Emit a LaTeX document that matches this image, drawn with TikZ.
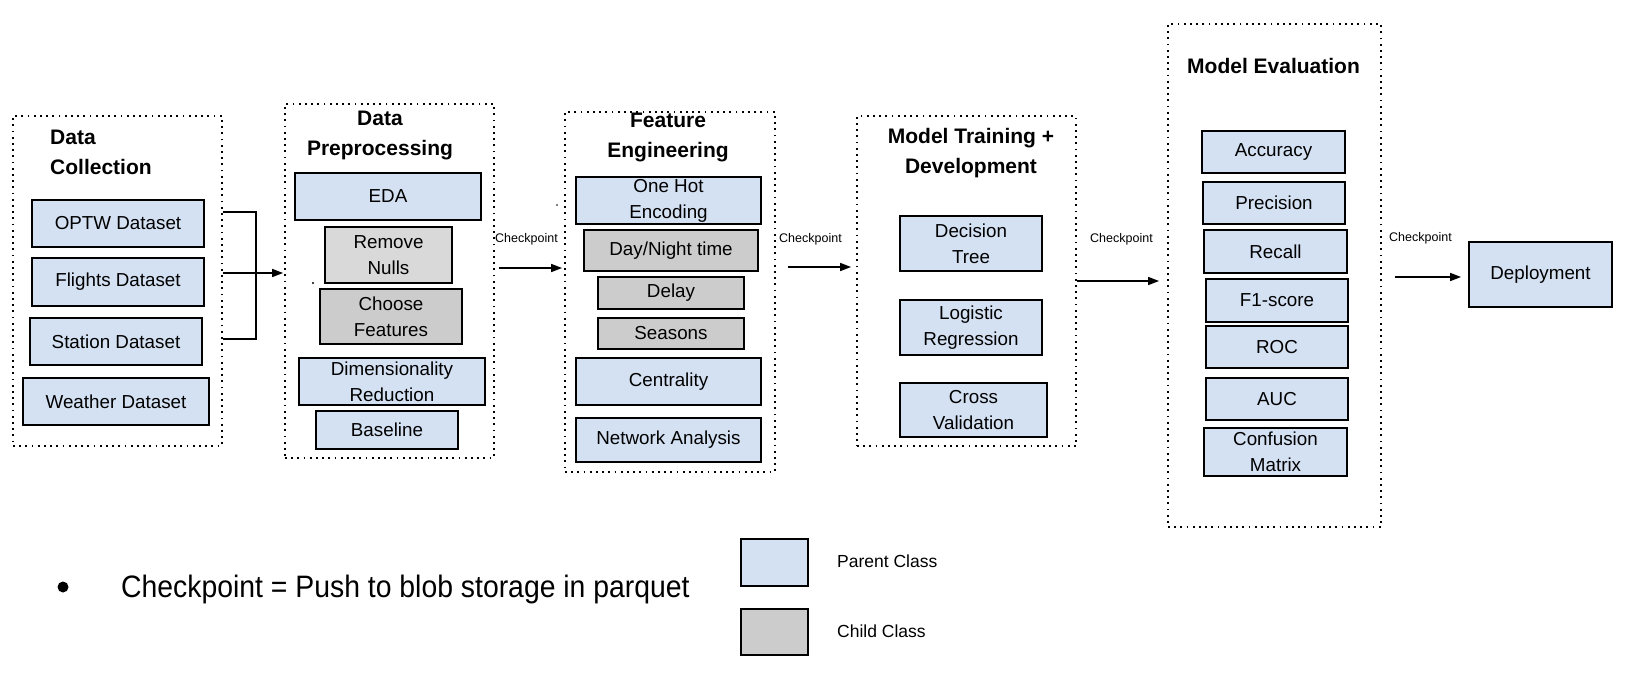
\documentclass[tikz,border=0pt]{standalone}
\usepackage{fontspec}
\setmainfont{Liberation Sans}
\usetikzlibrary{fit,arrows.meta,calc}
\definecolor{pblue}{HTML}{D4E1F3}
\definecolor{cgray}{HTML}{CCCCCC}
\definecolor{lgray}{HTML}{D9D9D9}
\newcommand\bx[7]{\node[#1, minimum width={#5pt-#3pt}, minimum height={#6pt-#4pt}] (#2) at ({(#3+#5)/2},{(#4+#6)/2}) {#7};}
\begin{document}
\begin{tikzpicture}[x=1pt,y=-1pt,
  box/.style={draw=black, line width=1.8pt, inner sep=0pt, align=center, font=\fontsize{18.8}{26}\selectfont},
  pbox/.style={box, fill=pblue},
  cbox/.style={box, fill=cgray},
  lbox/.style={box, fill=lgray},
  stage/.style={draw=black, line width=1.8pt, dash pattern=on 1.8pt off 4.4pt, inner sep=0pt},
  ttl/.style={font=\fontsize{21}{30}\selectfont\bfseries, inner sep=0pt, align=center},
  ckl/.style={font=\fontsize{12.5}{14}\selectfont, inner sep=0pt, anchor=base west},
  arr/.style={line width=1.6pt, -{Triangle[length=11pt,width=8pt]}},
  conn/.style={line width=1.6pt},
  legtext/.style={inner sep=0pt, anchor=base west}
]
\useasboundingbox (0,0) rectangle (1626,694);

% stage frames
\bx{stage}{dc}{13}{116}{222}{446}{}
\bx{stage}{dp}{285}{104}{494}{458}{}
\bx{stage}{fe}{565}{112}{775}{472}{}
\bx{stage}{mt}{857}{116}{1076}{446}{}
\bx{stage}{me}{1168}{24}{1381}{527}{}

% titles
\node[ttl, anchor=north west, align=left] (tdc) at (50,130) {Data\\Collection};
\node[ttl, anchor=north] (tdp) at (380,111) {Data\\Preprocessing};
\node[ttl, anchor=north] (tfe) at (668,113) {Feature\\Engineering};
\node[ttl, anchor=north] (tmt) at (971,128) {Model Training +\\Development};
\node[ttl, anchor=north west] (tme) at (1187,58) {Model Evaluation};

% data collection
\bx{pbox}{optw}{32}{200}{204}{247}{OPTW Dataset}
\bx{pbox}{flights}{32}{258}{204}{306}{Flights Dataset}
\bx{pbox}{station}{30}{318}{202}{365}{Station Dataset}
\bx{pbox}{weather}{23}{378}{209}{425}{Weather Dataset}

% data preprocessing
\bx{pbox}{eda}{295}{173}{481}{220}{EDA}
\bx{lbox}{nulls}{325}{227}{452}{283}{Remove\\Nulls}
\bx{cbox}{choose}{320}{289}{462}{344}{Choose\\Features}
\bx{pbox}{dimred}{299}{358}{485}{405}{Dimensionality\\Reduction}
\bx{pbox}{base}{316}{411}{458}{449}{Baseline}

% feature engineering
\bx{pbox}{onehot}{576}{177}{761}{224}{One Hot\\Encoding}
\bx{cbox}{daynight}{584}{230}{758}{271}{Day/Night time}
\bx{cbox}{delay}{598}{277}{744}{309}{Delay}
\bx{cbox}{seasons}{598}{318}{744}{349}{Seasons}
\bx{pbox}{central}{576}{358}{761}{405}{Centrality}
\bx{pbox}{network}{576}{418}{761}{462}{Network Analysis}

% model training
\bx{pbox}{dtree}{900}{216}{1042}{271}{Decision\\Tree}
\bx{pbox}{logreg}{900}{300}{1042}{355}{Logistic\\Regression}
\bx{pbox}{crossval}{900}{383}{1047}{437}{Cross\\Validation}

% model evaluation
\bx{pbox}{acc}{1202}{131}{1345}{173}{Accuracy}
\bx{pbox}{prec}{1203}{182}{1345}{224}{Precision}
\bx{pbox}{recall}{1204}{230}{1347}{273}{Recall}
\bx{pbox}{f1}{1206}{279}{1348}{322}{F1-score}
\bx{pbox}{roc}{1206}{326}{1348}{368}{ROC}
\bx{pbox}{auc}{1206}{378}{1348}{420}{AUC}
\bx{pbox}{conf}{1204}{428}{1347}{476}{Confusion\\Matrix}

% deployment
\bx{pbox}{deploy}{1469}{242}{1612}{307}{Deployment}

% bracket from data collection
\coordinate (j1) at (256,212);
\coordinate (j2) at (256,339);
\coordinate (jm) at (256,273);
\draw[conn] (dc.east |- j1) -- (j1) -- (j2) -- (dc.east |- j2);
\draw[arr] (dc.east |- jm) -- ($(dp.west |- jm)+(-1,0)$);

% checkpoint arrows
\coordinate (y1) at (0,268);
\coordinate (y2) at (0,267);
\coordinate (y3) at (0,281);
\coordinate (y4) at (0,277);
\draw[arr] ($(dp.east |- y1)+(4,0)$) -- ($(fe.west |- y1)+(-2,0)$);
\draw[arr] ($(fe.east |- y2)+(12,0)$) -- ($(mt.west |- y2)+(-5,0)$);
\draw[arr] (mt.east |- y3) -- ($(me.west |- y3)+(-8,0)$);
\draw[arr] ($(me.east |- y4)+(13,0)$) -- ($(deploy.west |- y4)+(-7,0)$);

\node[ckl] (c1) at (495,242) {Checkpoint};
\node[ckl] (c2) at (779,242) {Checkpoint};
\node[ckl] (c3) at (1090,242) {Checkpoint};
\node[ckl] (c4) at (1389,241) {Checkpoint};

% stray dots
\fill (313,283) circle (1.1);
\fill (557,205) circle (0.9);

% legend
\fill (63,587) circle (5.5);
\node[legtext, font=\fontsize{31}{31}\selectfont] (note) at (121,597) {\scalebox{0.915}[1]{Checkpoint = Push to blob storage in parquet}};
\bx{pbox}{lp}{741}{539}{808}{586}{}
\bx{cbox}{lc}{741}{609}{808}{655}{}
\node[legtext, font=\fontsize{17.5}{20}\selectfont] (tp) at (837,567) {Parent Class};
\node[legtext, font=\fontsize{17.5}{20}\selectfont] (tc) at (837,637) {Child Class};
\end{tikzpicture}
\end{document}
